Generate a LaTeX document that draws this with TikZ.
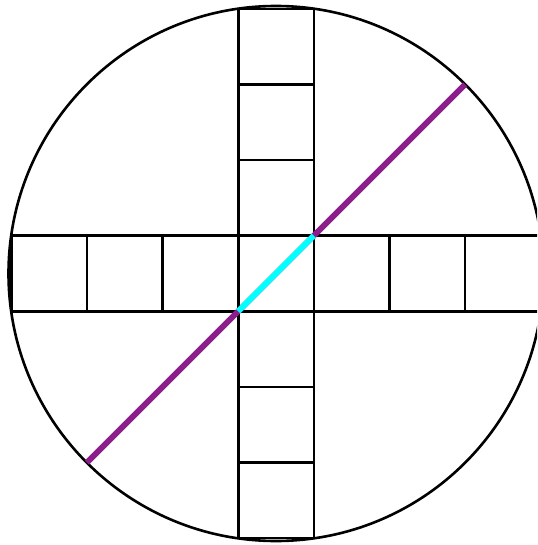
\documentclass[tikz,border=0pt]{standalone}
\begin{document}
\begin{tikzpicture}[x=1pt,y=-1pt,
  edge/.style={draw=black,line width=2.6pt},
  diag/.style={line width=5.8pt,draw=diagpurple},
  core/.style={line width=5.8pt,draw=corecyan}]
\definecolor{diagpurple}{RGB}{140,30,140}
\definecolor{corecyan}{RGB}{0,255,255}
\useasboundingbox (0,0) rectangle (537,545);
\clip (0,0) rectangle (537,545);
\def\s{75.6}
\coordinate (O) at (276,273.5);
% circle
\draw[edge] (O) circle[radius=267.5];
% horizontal row of squares
\foreach \i in {-3,...,3} {
  \draw[edge] ([shift={(\i*\s-0.5*\s,-0.5*\s)}]O) rectangle ++(\s,\s);
}
% vertical column of squares
\foreach \j in {-3,-2,-1,1,2,3} {
  \draw[edge] ([shift={(-0.5*\s,\j*\s-0.5*\s)}]O) rectangle ++(\s,\s);
}
\coordinate (pA) at ([shift={(-2.5*\s,2.5*\s)}]O);
\coordinate (pB) at ([shift={(2.5*\s,-2.5*\s)}]O);
\coordinate (cA) at ([shift={(-0.5*\s,0.5*\s)}]O);
\coordinate (cB) at ([shift={(0.5*\s,-0.5*\s)}]O);
\draw[diag] (pA) -- (pB);
\draw[core] (cA) -- (cB);
\end{tikzpicture}
\end{document}
